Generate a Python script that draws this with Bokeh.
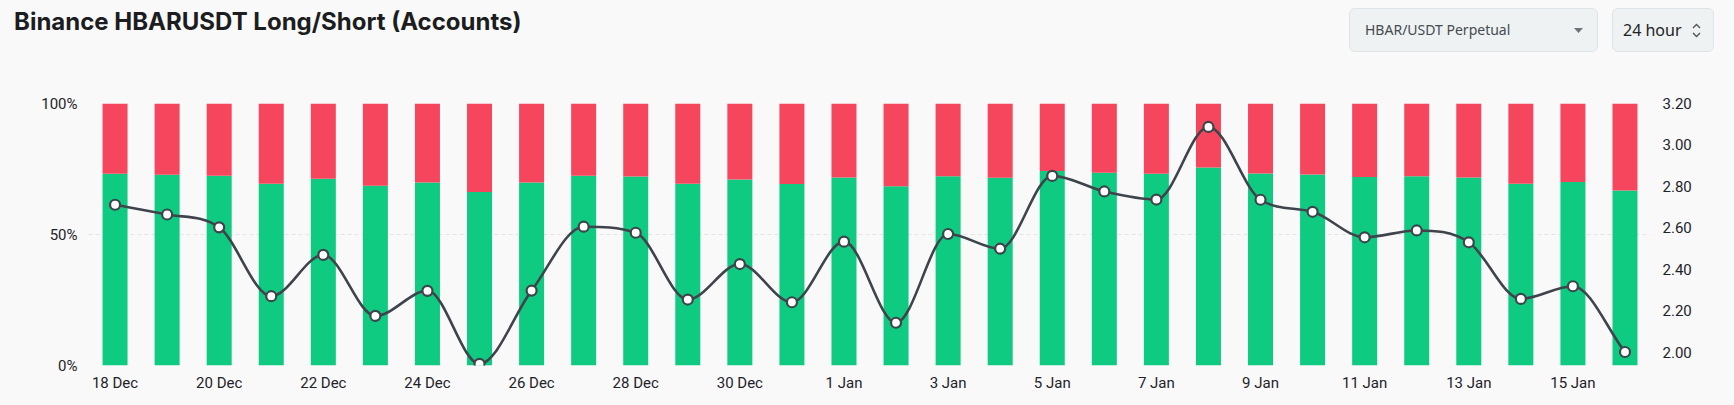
from bokeh.plotting import figure
from bokeh.models import (ColumnDataSource, Range1d, LinearAxis, FixedTicker, Div,
                          NumeralTickFormatter)
from bokeh.layouts import column
from bokeh.embed import file_html
from bokeh.resources import INLINE

# ---------------- data ----------------
title = "Binance HBARUSDT Long/Short (Accounts)"
symbol_label = "HBAR/USDT Perpetual"
interval_label = "24 hour"

dates = ["18 Dec", "19 Dec", "20 Dec", "21 Dec", "22 Dec", "23 Dec", "24 Dec", "25 Dec",
         "26 Dec", "27 Dec", "28 Dec", "29 Dec", "30 Dec", "31 Dec", "1 Jan", "2 Jan",
         "3 Jan", "4 Jan", "5 Jan", "6 Jan", "7 Jan", "8 Jan", "9 Jan", "10 Jan",
         "11 Jan", "12 Jan", "13 Jan", "14 Jan", "15 Jan", "16 Jan"]

long_pct = [73.2, 72.8, 72.4, 69.4, 71.3, 68.6, 69.8, 66.2, 69.8, 72.4,
            72.1, 69.4, 71.0, 69.3, 71.8, 68.4, 72.2, 71.7, 74.2, 73.6,
            73.2, 75.6, 73.3, 72.9, 71.9, 72.2, 71.8, 69.4, 70.0, 66.8]

short_pct = [26.8, 27.2, 27.6, 30.6, 28.7, 31.4, 30.2, 33.8, 30.2, 27.6,
             27.9, 30.6, 29.0, 30.7, 28.2, 31.6, 27.8, 28.3, 25.8, 26.4,
             26.8, 24.4, 26.7, 27.1, 28.1, 27.8, 28.2, 30.6, 30.0, 33.2]

price = [2.712, 2.665, 2.603, 2.271, 2.470, 2.176, 2.297, 1.945, 2.298, 2.606,
         2.577, 2.255, 2.426, 2.242, 2.534, 2.143, 2.571, 2.500, 2.851, 2.776,
         2.737, 3.087, 2.736, 2.678, 2.555, 2.588, 2.531, 2.258, 2.319, 2.002]

pct_ticks = [0, 50, 100]
price_ticks = [2.0, 2.2, 2.4, 2.6, 2.8, 3.0, 3.2]

# ---------------- styles ----------------
BG = "#f9f9f9"
GREEN = "#0ecb81"
RED = "#f6465d"
LINE = "#3f434b"
TXT = "#1e2329"
FONT = "Roboto"

n = len(dates)
idx = list(range(n))

src = ColumnDataSource(dict(x=idx, long=long_pct, short=short_pct, price=price, date=dates))

p = figure(width=1718, height=329, output_backend="svg", toolbar_location=None,
           x_range=Range1d(-0.51, n - 0.51), y_range=Range1d(0, 100),
           min_border_left=80, min_border_right=76, min_border_top=35, min_border_bottom=32)
p.extra_y_ranges = {"price": Range1d(1.937, 3.2)}

p.background_fill_color = BG
p.border_fill_color = BG
p.outline_line_color = None

p.vbar_stack(["long", "short"], x="x", width=0.48, color=[GREEN, RED], source=src,
             line_color=None)

# smooth (monotone cubic) line drawn as bezier segments from the price data
d = [price[i + 1] - price[i] for i in range(n - 1)]
m = [0.0] * n
m[0] = d[0]
m[-1] = d[-1]
for i in range(1, n - 1):
    m[i] = 0.0 if d[i - 1] * d[i] <= 0 else (d[i - 1] + d[i]) / 2
for i in range(n - 1):
    if d[i] == 0:
        m[i] = m[i + 1] = 0.0
        continue
    a, b = m[i] / d[i], m[i + 1] / d[i]
    s = a * a + b * b
    if s > 9:
        t = 3 / s ** 0.5
        m[i] = t * a * d[i]
        m[i + 1] = t * b * d[i]

bz = ColumnDataSource(dict(
    x0=idx[:-1], y0=price[:-1], x1=idx[1:], y1=price[1:],
    cx0=[i + 1 / 3 for i in idx[:-1]], cy0=[price[i] + m[i] / 3 for i in range(n - 1)],
    cx1=[i + 1 - 1 / 3 for i in idx[:-1]], cy1=[price[i + 1] - m[i + 1] / 3 for i in range(n - 1)],
))
p.bezier(x0="x0", y0="y0", x1="x1", y1="y1", cx0="cx0", cy0="cy0", cx1="cx1", cy1="cy1",
         source=bz, line_color=LINE, line_width=2.6, y_range_name="price")
p.scatter("x", "price", source=src, size=10, fill_color="white", line_color=LINE,
          line_width=2.2, y_range_name="price")

# axes
p.xaxis.ticker = FixedTicker(ticks=idx[::2])
p.xaxis.major_label_overrides = {i: dates[i] for i in idx}
p.yaxis.ticker = FixedTicker(ticks=pct_ticks)
p.yaxis.major_label_overrides = {t: f"{t}%" for t in pct_ticks}

right = LinearAxis(y_range_name="price", ticker=FixedTicker(ticks=price_ticks),
                   formatter=NumeralTickFormatter(format="0.00"))
p.add_layout(right, "right")

for ax in p.axis:
    ax.axis_line_color = None
    ax.major_tick_line_color = None
    ax.minor_tick_line_color = None
    ax.major_tick_out = 0
    ax.major_tick_in = 0
    ax.major_label_text_font = FONT
    ax.major_label_text_font_size = "15px"
    ax.major_label_text_color = TXT
p.xaxis.major_label_standoff = 8
p.yaxis[0].major_label_standoff = 11
right.major_label_standoff = 12

p.xgrid.grid_line_color = None
p.ygrid.ticker = FixedTicker(ticks=pct_ticks)
p.ygrid.grid_line_color = "#e4e4e4"
p.ygrid.grid_line_dash = "4 3"
p.ygrid.grid_line_width = 1

# header (title + selectors)
chev = ('<svg style="position:absolute;left:79px;top:14px" width="9" height="15">'
        '<path d="M1 5 L4.5 1.5 L8 5" stroke="#555" stroke-width="1.4" fill="none"/>'
        '<path d="M1 10 L4.5 13.5 L8 10" stroke="#555" stroke-width="1.4" fill="none"/></svg>')
caret = ('<svg style="position:absolute;left:224px;top:19px" width="9" height="5">'
         '<path d="M0 0 L9 0 L4.5 5 Z" fill="#6f7378"/></svg>')
header_html = f"""
<div style="position:relative;width:1718px;height:60px;background:{BG};">
  <div style="position:absolute;left:6px;top:0px;font-family:Inter;font-weight:700;font-size:24px;line-height:28px;color:#1c1d21;white-space:nowrap;">{title}</div>
  <div style="position:absolute;left:1341px;top:0px;width:249px;height:44px;box-sizing:border-box;border:1px solid #dde4e7;border-radius:6px;background:#eef2f3;">
    <span style="position:absolute;left:15px;top:0;line-height:42px;font-family:'Noto Sans';font-size:14px;color:#464b50;white-space:nowrap;">{symbol_label}</span>
    {caret}
  </div>
  <div style="position:absolute;left:1604px;top:0px;width:102px;height:44px;box-sizing:border-box;border:1px solid #dde4e7;border-radius:6px;background:#eef2f3;">
    <span style="position:absolute;left:10px;top:0;line-height:42px;font-family:'Noto Sans';font-size:16px;color:#222;white-space:nowrap;">{interval_label}</span>
    {chev}
  </div>
</div>
"""
header = Div(text=header_html, width=1718, height=60, margin=(0, 0, 0, 0))
p.margin = (0, 0, 0, 0)

layout = column(header, p, spacing=0, margin=(8, 8, 8, 8))

html = file_html(layout, INLINE)
html = html.replace("<body>", f'<body style="background:{BG};">')
open("out.html", "w").write(html)
